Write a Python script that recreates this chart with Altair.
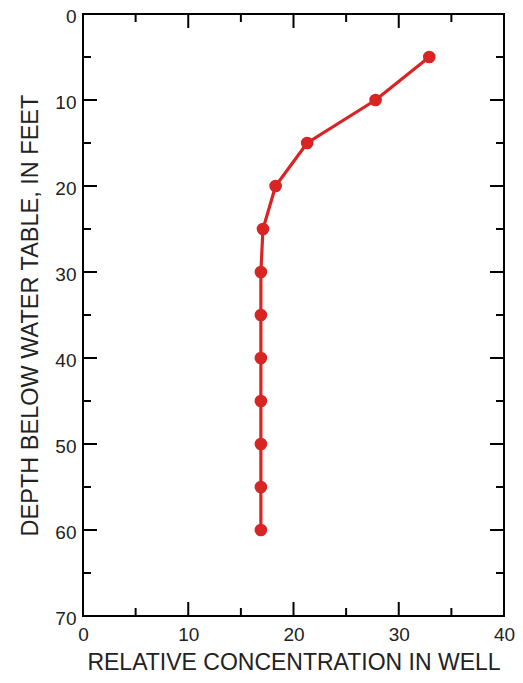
import altair as alt
import pandas as pd

depth = [5, 10, 15, 20, 25, 30, 35, 40, 45, 50, 55, 60]
conc = [32.9, 27.8, 21.3, 18.3, 17.1, 16.9, 16.9, 16.9, 16.9, 16.9, 16.9, 16.9]

x_major = [10, 20, 30]
x_minor = [5, 15, 25, 35]
y_major = [10, 20, 30, 40, 50, 60]
y_minor = [5, 15, 25, 35, 45, 55, 65]

W, H = 421, 602
RED = "#d92424"
FONT = "Liberation Sans"

df = pd.DataFrame({"conc": conc, "depth": depth})

xs = alt.Scale(domain=[0, 40], nice=False, zero=False)
ys = alt.Scale(domain=[0, 70], nice=False, zero=False, reverse=True)

x_axis = alt.Axis(values=[0, 10, 20, 30, 40], title="RELATIVE CONCENTRATION IN WELL",
                  labelPadding=9, titlePadding=7, titleFontSize=23)
y_axis = alt.Axis(values=[0, 10, 20, 30, 40, 50, 60, 70], title="DEPTH BELOW WATER TABLE, IN FEET",
                  labelPadding=7, titlePadding=12, labelOffset=2, titleFontSize=23.5)

base = alt.Chart(df)
line = base.mark_line(color=RED, strokeWidth=3.2).encode(
    x=alt.X("conc:Q", scale=xs, axis=x_axis),
    y=alt.Y("depth:Q", scale=ys, axis=y_axis),
    order="depth:Q",
)
pts = base.mark_circle(color=RED, size=160, opacity=1).encode(
    x=alt.X("conc:Q", scale=xs, axis=x_axis),
    y=alt.Y("depth:Q", scale=ys, axis=y_axis),
)

layers = [line, pts]

def xticks(vals, length):
    d = pd.DataFrame({"v": vals})
    top = alt.Chart(d).mark_rule(color="black", strokeWidth=2).encode(
        x=alt.X("v:Q", scale=xs, axis=x_axis), y=alt.value(0), y2=alt.value(length))
    bot = alt.Chart(d).mark_rule(color="black", strokeWidth=2).encode(
        x=alt.X("v:Q", scale=xs, axis=x_axis), y=alt.value(H), y2=alt.value(H - length))
    return [top, bot]

def yticks(vals, length):
    d = pd.DataFrame({"v": vals})
    left = alt.Chart(d).mark_rule(color="black", strokeWidth=2).encode(
        y=alt.Y("v:Q", scale=ys, axis=y_axis), x=alt.value(0), x2=alt.value(length))
    right = alt.Chart(d).mark_rule(color="black", strokeWidth=2).encode(
        y=alt.Y("v:Q", scale=ys, axis=y_axis), x=alt.value(W), x2=alt.value(W - length))
    return [left, right]

layers += xticks(x_major, 14) + xticks(x_minor, 8) + yticks(y_major, 14) + yticks(y_minor, 8)

chart = alt.layer(*layers).properties(
    width=W, height=H,
    autosize=alt.AutoSizeParams(type="none"),
    padding={"left": 75, "top": 6, "right": 11, "bottom": 59},
    background="white",
).configure_view(
    stroke="black", strokeWidth=2
).configure_axis(
    ticks=False, grid=False, domain=False, labelFlush=False,
    labelFontSize=19, labelFont=FONT, labelColor="#222",
    titleFont=FONT, titleFontWeight="normal", titleColor="#222",
)

chart.save("out.html", embed_options={"renderer": "svg", "actions": False})
